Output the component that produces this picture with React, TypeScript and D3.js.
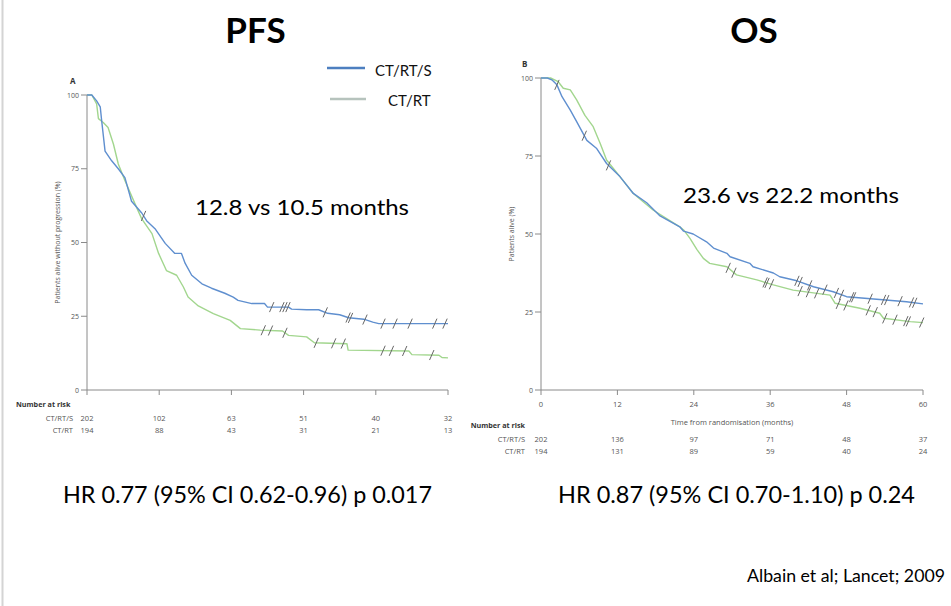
import React from "react";
import * as d3 from "d3";

// ---------- Data ----------
const timeTicks = [0, 12, 24, 36, 48, 60];
const yTicks = [0, 25, 50, 75, 100];
const groups = ["CT/RT/S", "CT/RT"];

// PFS Kaplan-Meier curve vertices (months, % alive without progression)
const pfsCTRTS: [number, number][] = [
  [0, 100], [0.8, 100], [1.6, 98], [2.2, 96], [2.4, 92], [3.0, 81], [4.1, 77.7], [5.2, 75],
  [6.3, 72], [7.4, 64], [9.1, 60], [9.9, 57.4], [11.3, 54.7], [13.0, 49.7], [14.6, 46.3],
  [15.7, 46.3], [16.3, 43], [17.4, 38.9], [19.1, 36], [20.7, 34.5], [22.9, 32.8], [24.3, 31.5],
  [25.1, 30.4], [27.4, 29.3], [29.5, 29.3], [30.0, 28.1], [33.5, 28.1], [34.0, 27.4],
  [36.5, 27.2], [38.5, 27.2], [40.0, 26], [42.0, 25.5], [43.5, 24.5], [46.0, 24], [47.5, 23],
  [48.5, 22.5], [60, 22.5],
];
const pfsCTRT: [number, number][] = [
  [0, 100], [0.8, 100], [1.6, 97], [1.9, 92], [2.7, 90.7], [3.5, 89], [4.4, 83.3], [5.2, 76.6],
  [6.3, 71], [8.0, 63], [9.1, 58], [10.8, 53], [11.9, 46.3], [13.2, 40.5], [14.9, 38.9],
  [16.0, 35], [16.8, 31.5], [18.5, 28.5], [21.0, 25.9], [23.8, 23.6], [25.5, 20.8],
  [28.8, 20.3], [32.5, 20], [33.5, 18.5], [36.5, 18], [37.8, 16], [43.2, 15.7], [43.4, 13.5],
  [53.5, 13.2], [54.0, 12], [58.5, 11.8], [59.0, 11], [60, 10.9],
];
const pfsCensorCTRTS = [9.4, 30.7, 32.4, 32.9, 33.4, 39.6, 43.4, 43.8, 46.2, 49.2, 51.2, 53.7, 57.8, 59.5];
const pfsCensorCTRT = [29.3, 30.5, 32.9, 38.1, 41.0, 42.6, 49.2, 50.6, 52.8, 57.3];
const pfsAtRiskCTRTS = [202, 102, 63, 51, 40, 32];
const pfsAtRiskCTRT = [194, 88, 43, 31, 21, 13];

// OS Kaplan-Meier curve vertices (months, % alive)
const osCTRTS: [number, number][] = [
  [0, 100], [1.0, 100], [1.7, 99.4], [2.5, 97.8], [3.3, 94], [4.6, 89.7], [5.6, 86], [7.2, 80],
  [8.7, 77.5], [10.3, 72.6], [12.4, 68.4], [14.5, 63], [16.6, 60], [18.7, 55.8], [21.8, 52.3],
  [22.4, 50.9], [23.9, 50], [26.0, 47.5], [27.1, 45.5], [29.2, 43.8], [29.7, 42.7],
  [32.8, 40.6], [33.3, 39.5], [36.5, 37.5], [37.5, 36.3], [40.2, 35], [42.8, 33.1],
  [45.9, 31.5], [48.0, 29.9], [53.2, 29], [57.4, 28.3], [60, 27.6],
];
const osCTRT: [number, number][] = [
  [0, 100], [1.5, 100], [2.7, 98.8], [3.5, 96.7], [4.6, 96.2], [5.6, 93], [6.9, 88], [8.2, 84.4],
  [9.3, 79], [10.3, 73.7], [12.4, 68.4], [14.5, 63], [17.6, 57.7], [21.8, 52.3], [22.4, 51.3],
  [23.4, 48.6], [24.5, 45], [25.5, 42.2], [26.5, 40.6], [29.2, 39.5], [30.7, 36.9],
  [33.9, 35.3], [36.5, 33.7], [39.6, 32], [45.4, 30.4], [46.2, 27.8], [50.1, 26.2],
  [53.2, 24.6], [53.8, 23], [58.0, 21.9], [60, 21.6],
];
const osCensorCTRTS = [2.5, 6.8, 10.6, 40.2, 40.7, 42.2, 44.6, 46.4, 47.2, 48.8, 49.1, 51.7, 53.8, 54.3, 56.4, 58.2, 58.7];
const osCensorCTRT = [29.4, 30.3, 35.2, 35.5, 36.2, 40.7, 42, 43.3, 46.7, 47.9, 51.4, 52.5, 54, 55.6, 57.3, 57.7, 59.8];
const osAtRiskCTRTS = [202, 136, 97, 71, 48, 37];
const osAtRiskCTRT = [194, 131, 89, 59, 40, 24];

// ---------- Styles ----------
const BLUE = "#5f8fcf";
const GREEN = "#a2d68e";
const AXIS = "#8a8a8a";
const SMALL_FONT = "'Open Sans', 'Noto Sans', sans-serif";
const BIG_FONT = "Lato, 'Noto Sans', sans-serif";

function valueAt(curve: [number, number][], t: number) {
  // position on the drawn polyline at time t (last vertex at or before t, then along the segment)
  let i = d3.bisector((d: [number, number]) => d[0]).right(curve, t) - 1;
  i = Math.max(0, Math.min(i, curve.length - 2));
  const [ta, sa] = curve[i];
  const [tb, sb] = curve[i + 1];
  if (tb === ta) return sb;
  const f = Math.max(0, Math.min(1, (t - ta) / (tb - ta)));
  return sa + (sb - sa) * f;
}

type PanelProps = {
  letter: string;
  x0: number; x1: number; yTop: number; yBottom: number;
  curveA: [number, number][]; curveB: [number, number][];
  censorA: number[]; censorB: number[];
  riskA: number[]; riskB: number[];
  yTitle: string; yTitleX: number;
  showXLabels: boolean;
  riskTitleX: number; riskTitleY: number; riskLabelX: number; riskRowY: [number, number];
  letterPos: [number, number];
};

function Panel(p: PanelProps) {
  const x = d3.scaleLinear().domain([0, 60]).range([p.x0, p.x1]);
  const y = d3.scaleLinear().domain([0, 100]).range([p.yBottom, p.yTop]);
  const line = d3.line<[number, number]>().x((d) => x(d[0])).y((d) => y(d[1])).curve(d3.curveLinear);
  const censor = (curve: [number, number][], ts: number[], key: string) =>
    ts.map((t, i) => {
      const cx = x(t), cy = y(valueAt(curve, t));
      return <line key={key + i} x1={cx - 2.2} y1={cy + 5} x2={cx + 2.2} y2={cy - 5} stroke="#666" strokeWidth={1} />;
    });
  return (
    <g>
      <text x={p.letterPos[0]} y={p.letterPos[1]} fontFamily={SMALL_FONT} fontWeight="bold" fontSize={8} fill="#333">{p.letter}</text>
      {/* y axis */}
      <line x1={p.x0} x2={p.x0} y1={p.yTop} y2={p.yBottom} stroke={AXIS} strokeWidth={1} />
      {yTicks.map((v) => (
        <g key={"y" + v}>
          <line x1={p.x0 - 6} x2={p.x0} y1={y(v)} y2={y(v)} stroke={AXIS} />
          <text x={p.x0 - 8} y={y(v) + 2.5} textAnchor="end" fontFamily={SMALL_FONT} fontSize={7} fill="#555">{v}</text>
        </g>
      ))}
      <text transform={`translate(${p.yTitleX},${(p.yTop + p.yBottom) / 2}) rotate(-90)`} textAnchor="middle"
        fontFamily={SMALL_FONT} fontSize={7} fill="#555">{p.yTitle}</text>
      {/* x axis */}
      <line x1={p.x0} x2={p.x1} y1={p.yBottom} y2={p.yBottom} stroke={AXIS} strokeWidth={1} />
      {timeTicks.map((t) => (
        <g key={"x" + t}>
          <line x1={x(t)} x2={x(t)} y1={p.yBottom} y2={p.yBottom + 5} stroke={AXIS} />
          {p.showXLabels && (
            <text x={x(t)} y={p.yBottom + 17} textAnchor="middle" fontFamily={SMALL_FONT} fontSize={7.5} fill="#555">{t}</text>
          )}
        </g>
      ))}
      {p.showXLabels && (
        <text x={(p.x0 + p.x1) / 2} y={p.yBottom + 35} textAnchor="middle" fontFamily={SMALL_FONT} fontSize={7.5} fill="#555">
          Time from randomisation (months)
        </text>
      )}
      {/* curves */}
      <path d={line(p.curveB) || ""} fill="none" stroke={GREEN} strokeWidth={1.4} strokeLinejoin="round" />
      <path d={line(p.curveA) || ""} fill="none" stroke={BLUE} strokeWidth={1.4} strokeLinejoin="round" />
      {censor(p.curveB, p.censorB, "cb")}
      {censor(p.curveA, p.censorA, "ca")}
      {/* number at risk */}
      <text x={p.riskTitleX} y={p.riskTitleY} fontFamily={SMALL_FONT} fontWeight="bold" fontSize={7.2} fill="#333"
        textAnchor={p.showXLabels ? "end" : "start"}>Number at risk</text>
      {[p.riskA, p.riskB].map((row, r) => (
        <g key={"r" + r}>
          <text x={p.riskLabelX} y={p.riskRowY[r]} textAnchor="end" fontFamily={SMALL_FONT} fontSize={7.5} fill="#555">{groups[r]}</text>
          {row.map((n, i) => (
            <text key={i} x={x(timeTicks[i])} y={p.riskRowY[r]} textAnchor="middle" fontFamily={SMALL_FONT} fontSize={7.5} fill="#555">{n}</text>
          ))}
        </g>
      ))}
    </g>
  );
}

export default function App() {
  return (
    <svg width={951} height={606} style={{ position: "absolute", left: 0, top: 0, background: "#fff" }}>
      <rect x={0} y={0} width={951} height={606} fill="#fff" />
      <line x1={2.5} x2={2.5} y1={0} y2={606} stroke="#d4d4d4" strokeWidth={2} />

      {/* Titles */}
      <text x={255.5} y={43} textAnchor="middle" fontFamily={BIG_FONT} fontWeight="bold" fontSize={35} fill="#000">PFS</text>
      <text x={754} y={43} textAnchor="middle" fontFamily={BIG_FONT} fontWeight="bold" fontSize={35} fill="#000">OS</text>

      {/* Legend */}
      <line x1={327} x2={365} y1={68} y2={68} stroke="#4d7fc0" strokeWidth={2.5} />
      <text x={375} y={76} fontFamily={BIG_FONT} fontSize={15} fill="#111">{groups[0]}</text>
      <line x1={330} x2={366} y1={99} y2={99} stroke="#b6c3bd" strokeWidth={2.5} />
      <text x={388} y={106} fontFamily={BIG_FONT} fontSize={15} fill="#111">{groups[1]}</text>

      <Panel
        letter="A" letterPos={[70, 84]}
        x0={87} x1={448} yTop={95} yBottom={390}
        curveA={pfsCTRTS} curveB={pfsCTRT} censorA={pfsCensorCTRTS} censorB={pfsCensorCTRT}
        riskA={pfsAtRiskCTRTS} riskB={pfsAtRiskCTRT}
        yTitle="Patients alive without progression (%)" yTitleX={60}
        showXLabels={false}
        riskTitleX={16} riskTitleY={407} riskLabelX={73} riskRowY={[421, 433]}
      />
      <Panel
        letter="B" letterPos={[522, 67]}
        x0={541} x1={923} yTop={78} yBottom={390}
        curveA={osCTRTS} curveB={osCTRT} censorA={osCensorCTRTS} censorB={osCensorCTRT}
        riskA={osAtRiskCTRTS} riskB={osAtRiskCTRT}
        yTitle="Patients alive (%)" yTitleX={514}
        showXLabels={true}
        riskTitleX={525} riskTitleY={428} riskLabelX={525} riskRowY={[442, 454]}
      />

      {/* Annotations */}
      <text x={195} y={215} fontFamily={BIG_FONT} fontSize={21} fill="#000" textLength={214} lengthAdjust="spacingAndGlyphs">12.8 vs 10.5 months</text>
      <text x={683} y={203} fontFamily={BIG_FONT} fontSize={21} fill="#000" textLength={216} lengthAdjust="spacingAndGlyphs">23.6 vs 22.2 months</text>
      <text x={63} y={503} fontFamily={BIG_FONT} fontSize={23} fill="#000" textLength={369} lengthAdjust="spacingAndGlyphs">HR 0.77 (95% CI 0.62-0.96) p 0.017</text>
      <text x={558} y={503} fontFamily={BIG_FONT} fontSize={23} fill="#000" textLength={357} lengthAdjust="spacingAndGlyphs">HR 0.87 (95% CI 0.70-1.10) p 0.24</text>
      <text x={747} y={582} fontFamily={BIG_FONT} fontSize={16.5} fill="#000" textLength={198} lengthAdjust="spacingAndGlyphs">Albain et al; Lancet; 2009</text>
    </svg>
  );
}
